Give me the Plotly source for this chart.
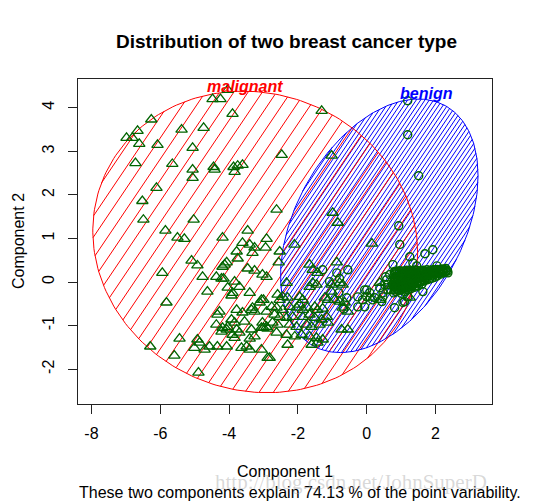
import numpy as np
import plotly.graph_objects as go

# ---------------- data ----------------
malignant_x = [-4.04,-4.48,-4.25,-3.90,-6.26,-6.66,-5.38,-4.74,-6.98,-6.81,-6.61,-6.08,-5.06,-6.72,-5.65,-5.06,-4.45,-4.42,-5.06,-3.87,
               -3.75,-3.61,-3.84,-6.11,-6.52,-6.49,-5.03,-5.85,-3.46,-5.50,-5.30,-4.19,-2.91,-1.31,-2.47,-1.02,-2.62,-0.99,-0.84,-3.61,
               -3.40,-3.26,-3.32,-3.78,-3.75,-5.09,-4.92,-4.13,-4.07,-4.19,-3.46,-3.26,-5.94,-4.77,-4.37,-4.22,-4.16,-3.84,-3.70,-4.04,
               -3.90,-3.93,-3.40,-4.63,-5.82,-3.06,-3.11,-4.28,-4.34,-3.32,-3.26,-3.35,-3.61,-3.78,-2.91,-3.93,-3.84,-4.04,-4.37,-3.55,
               -3.03,-2.91,-3.06,-2.88,-4.19,-4.22,-4.07,-3.78,-3.70,-3.90,-3.84,-3.35,-3.26,-3.40,-5.44,-4.92,-4.86,-5.01,-4.71,-4.57,
               -4.34,-4.07,-3.49,-3.64,-3.40,-3.06,-6.29,-5.59,-4.89,-2.88,-2.10,0.15,-2.53,-2.56,-1.66,-1.57,-1.43,-0.87,-2.33,-1.57,
               -1.46,-1.66,-1.02,-0.79,-0.70,0.38,-1.02,-2.59,-2.44,-2.30,-2.53,-1.95,-1.86,-1.22,-1.13,-0.93,-0.79,-0.64,0.09,0.38,
               -2.76,-2.62,-2.44,-2.24,-1.95,-2.04,-1.86,-1.72,-1.51,-1.43,-1.28,-0.70,-0.55,-2.68,-2.53,-2.33,-2.15,-1.86,-1.66,-1.51,
               -1.31,-1.16,-2.74,-2.59,-2.24,-2.04,-1.75,-1.60,-1.37,-1.13,-0.73,-0.55,-2.62,-2.33,-2.09,-1.89,-1.66,-1.46,-1.28,-2.30,
               -1.60,-1.43,-2.82,1.25,-3.03,-2.91,-2.94,-3.00,-3.00]
malignant_y = [4.41,4.20,4.20,3.86,3.73,3.47,3.50,3.54,3.31,3.31,3.17,3.15,3.08,2.73,2.71,2.58,2.64,2.58,2.39,2.64,
               2.67,2.69,2.53,2.16,1.86,1.43,1.43,1.18,1.18,1.02,0.99,1.02,0.99,3.93,2.92,2.90,1.66,1.59,1.36,0.90,
               0.86,0.79,0.67,0.70,0.54,0.49,0.38,0.40,0.45,0.35,0.31,0.26,0.21,0.12,0.12,0.08,0.08,0.01,-0.11,-0.13,
               -0.25,-0.31,-0.25,-0.22,-0.47,-0.41,-0.47,-0.68,-0.75,-0.59,-0.68,-0.64,-0.70,-0.64,-0.68,-0.86,-0.93,-1.03,-0.98,-0.91,
               -0.93,-1.03,-1.05,-1.07,-1.05,-1.14,-1.09,-1.09,-1.16,-1.21,-1.28,-1.09,-1.25,-1.30,-1.30,-1.32,-1.39,-1.51,-1.55,-1.48,
               -1.48,-1.48,-1.48,-1.51,-1.55,-1.55,-1.48,-1.69,-2.08,-1.74,0.86,0.88,0.70,0.45,0.40,0.28,0.21,0.45,-0.02,-0.02,
               -0.06,-0.11,-0.06,-0.02,-0.06,-0.02,-0.22,-0.29,-0.34,-0.36,-0.41,-0.34,-0.41,-0.36,-0.41,-0.41,-0.45,-0.47,-0.36,-0.41,
               -0.57,-0.59,-0.64,-0.57,-0.52,-0.59,-0.64,-0.59,-0.57,-0.64,-0.61,-0.59,-0.68,-0.75,-0.80,-0.82,-0.80,-0.80,-0.75,-0.82,
               -0.86,-0.80,-0.93,-0.98,-0.98,-1.03,-0.98,-1.03,-0.98,-0.93,-1.09,-1.09,-1.16,-1.21,-1.25,-1.21,-1.25,-1.28,-1.32,-1.44,
               -1.44,-1.39,-1.74,-0.36,0.17,0.12,0.79,-0.41,-1.05]

benign_x = [1.19,1.19,1.51,0.93,0.96,1.69,1.92,1.25,1.34,1.45,0.76,2.04,-1.28,-0.87,-0.55,0.81,0.67,-1.08,-0.79,0.58,
            0.52,0.00,-0.26,0.09,0.38,0.61,-0.12,0.17,0.47,-0.26,1.05,1.10,0.81,-0.58,0.44,1.19,1.45,2.04,2.21,2.36,
            0.70,0.47,-0.06,0.00,-0.06,0.23,1.63,0.55,0.61,-0.81,-0.67,
            0.75,0.78,0.80,0.83,0.85,0.88,0.90,0.93,0.95,0.98,1.00,1.03,1.05,1.08,1.10,1.13,1.15,1.18,1.20,1.23,
            1.25,1.28,1.30,1.33,1.35,1.38,1.40,1.43,1.45,1.48,1.50,1.53,1.55,1.58,1.60,1.63,1.65,1.68,1.70,1.73,
            1.75,1.78,1.80,1.83,1.85,1.88,1.90,1.93,1.95,1.98,2.00,2.05,2.10,2.15,2.20,2.25,2.30,2.35,
            0.80,0.90,1.00,1.10,1.20,1.30,1.40,0.85,0.95,1.05,1.15,1.25,1.35,1.00,1.10,1.20,1.30,1.40,1.50,1.60,
            0.85,0.95,1.05,1.15,1.25,1.35,1.45,1.55,1.65,1.75,1.85,1.95,2.05,2.15,2.25,
            0.80,0.90,1.00,1.10,1.20,1.30,1.40,1.50,1.60,1.70,1.80,1.90,2.00,2.10,2.20,2.30,
            0.78,0.88,0.98,1.08,1.18,1.28,1.38,1.48,1.58,1.68,1.78,1.88,1.98,
            0.76,0.86,0.96,1.06,1.16,1.26,1.36,1.46,1.56,1.66,
            0.80,0.90,1.00,1.10,1.20,1.30,1.40,
            0.82,0.92,1.02,1.12,1.22,1.32,1.42,1.52,1.62,1.72,1.82,1.92,2.02,2.12,2.22,2.32,
            0.83,0.93,1.03,1.13,1.23,1.33,1.43,1.53,1.63,1.73,1.83,1.93,2.03,2.13,
            0.81,0.91,1.01,1.11,1.21,1.31,1.41,1.51,1.61,1.71,
            0.85,0.95,1.05,1.15,1.25,1.35]
benign_y = [4.16,3.38,2.44,1.29,0.86,0.65,0.74,0.58,0.44,0.37,0.40,0.37,0.28,0.21,0.28,0.24,0.17,0.01,0.08,0.05,
            -0.06,-0.18,-0.34,-0.25,-0.13,-0.18,-0.41,-0.41,-0.34,-0.57,-0.47,-0.45,-0.59,-0.36,-0.45,-0.34,0.17,0.28,0.24,0.21,
            -0.18,-0.25,-0.18,-0.34,-0.57,-0.36,-0.22,0.12,-0.06,-0.25,-0.62,
            -0.05,-0.25,-0.12,0.02,-0.22,-0.10,0.05,-0.20,-0.08,0.06,-0.18,-0.04,0.08,-0.15,-0.02,0.10,-0.12,0.01,0.12,-0.10,
            0.03,0.14,-0.07,0.05,0.15,-0.05,0.07,0.17,-0.03,0.09,0.19,-0.01,0.11,0.20,0.01,0.13,0.22,0.03,0.15,0.23,
            0.05,0.17,0.25,0.07,0.19,0.27,0.09,0.21,0.28,0.11,0.22,0.14,0.27,0.18,0.30,0.21,0.31,0.25,
            0.22,0.24,0.25,0.24,0.26,0.25,0.27,0.12,0.15,0.18,0.20,0.20,0.22,-0.26,-0.22,-0.18,-0.15,-0.12,-0.09,-0.05,
            0.24,0.26,0.25,0.27,0.26,0.25,0.27,0.26,0.27,0.28,0.27,0.28,0.29,0.28,0.29,
            0.10,0.12,0.13,0.14,0.15,0.16,0.17,0.18,0.19,0.20,0.21,0.22,0.22,0.23,0.23,0.24,
            0.00,0.01,0.03,0.04,0.05,0.07,0.08,0.09,0.11,0.12,0.14,0.15,0.17,
            -0.10,-0.09,-0.08,-0.07,-0.05,-0.04,-0.02,-0.01,0.01,0.03,
            -0.18,-0.17,-0.16,-0.15,-0.13,-0.11,-0.09,
            0.18,0.19,0.20,0.21,0.21,0.22,0.22,0.23,0.24,0.24,0.25,0.25,0.26,0.26,0.27,0.27,
            0.06,0.07,0.08,0.09,0.10,0.11,0.12,0.13,0.15,0.16,0.17,0.18,0.19,0.20,
            -0.05,-0.04,-0.03,-0.02,-0.01,0.01,0.03,0.04,0.06,0.08,
            -0.14,-0.13,-0.12,-0.10,-0.08,-0.06]

# cluster ellipses: centre x, centre y, sd along x, sd along y, covariance
malignant_ellipse = [-3.24, 0.92, 4.72, 3.46, -1.2]
benign_ellipse = [0.365, 1.29, 2.87, 2.91, 3.3]

x_ticks = [-8, -6, -4, -2, 0, 2]
y_ticks = [-2, -1, 0, 1, 2, 3, 4]
x_range = [-8.39, 3.64]
y_range = [-2.80, 4.66]

# ---------------- layout constants ----------------
W, H = 533, 503
ML, MR, MT, MB = 78, 41, 79, 99
PW, PH = W - ML - MR, H - MT - MB
KX = PW / (x_range[1] - x_range[0])
KY = PH / (y_range[1] - y_range[0])
FONT = "Liberation Sans, Arial, sans-serif"
GREEN = "#006400"


def ellipse_poly(p, n=240):
    cx, cy, sx, sy, cov = p
    t = np.linspace(0, 2 * np.pi, n)
    b = cov / sx
    c = np.sqrt(sy ** 2 - b ** 2)
    return cx + sx * np.cos(t), cy + b * np.cos(t) + c * np.sin(t)


def hatch(px, py, angle_deg, spacing):
    u, v = px * KX, py * KY
    a = np.radians(angle_deg)
    dx, dy = np.cos(a), np.sin(a)
    nx, ny = -dy, dx
    s = u * nx + v * ny
    xs, ys = [], []
    c = s.min() + spacing / 2
    while c < s.max():
        pts = []
        for i in range(len(u) - 1):
            s0, s1 = s[i] - c, s[i + 1] - c
            if s0 * s1 < 0:
                f = s0 / (s0 - s1)
                pts.append((u[i] + f * (u[i + 1] - u[i]), v[i] + f * (v[i + 1] - v[i])))
        if len(pts) >= 2:
            proj = [p[0] * dx + p[1] * dy for p in pts]
            p0 = pts[int(np.argmin(proj))]
            p1 = pts[int(np.argmax(proj))]
            xs += [p0[0] / KX, p1[0] / KX, None]
            ys += [p0[1] / KY, p1[1] / KY, None]
        c += spacing
    return xs, ys


fig = go.Figure()

bx, by = ellipse_poly(benign_ellipse)
mx, my = ellipse_poly(malignant_ellipse)

hx, hy = hatch(bx, by, 56, 3.6)
fig.add_trace(go.Scatter(x=hx, y=hy, mode="lines", line=dict(color="blue", width=1), hoverinfo="skip", showlegend=False))
hx, hy = hatch(mx, my, 56, 11.8)
fig.add_trace(go.Scatter(x=hx, y=hy, mode="lines", line=dict(color="red", width=1), hoverinfo="skip", showlegend=False))

fig.add_trace(go.Scatter(x=bx, y=by, mode="lines", line=dict(color="blue", width=1), showlegend=False))
fig.add_trace(go.Scatter(x=mx, y=my, mode="lines", line=dict(color="red", width=1), showlegend=False))

fig.add_trace(go.Scatter(x=malignant_x, y=malignant_y, mode="markers",
                         marker=dict(symbol="triangle-up-open", size=10, color=GREEN, line=dict(width=1.3, color=GREEN)),
                         showlegend=False))
fig.add_trace(go.Scatter(x=benign_x, y=benign_y, mode="markers",
                         marker=dict(symbol="circle-open", size=8, color=GREEN, line=dict(width=1.4, color=GREEN)),
                         showlegend=False))

axis_common = dict(showgrid=False, zeroline=False, showline=True, mirror=True, linecolor="#222", linewidth=1,
                   ticks="outside", ticklen=9, tickcolor="#222", tickwidth=1,
                   tickfont=dict(family=FONT, size=16, color="black"))
fig.update_xaxes(range=x_range, tickvals=x_ticks, ticktext=[str(v) for v in x_ticks], ticklabelstandoff=6, **axis_common)
fig.update_yaxes(range=y_range, tickvals=y_ticks, ticktext=[str(v) for v in y_ticks], tickangle=-90,
                 ticklabelstandoff=8, **axis_common)

def px2paper(xp, yp):
    return (xp - ML) / PW, (H - MB - yp) / PH

ann = []
tx, ty = px2paper(286.5, 41)
ann.append(dict(text="<b>Distribution of two breast cancer type</b>", x=tx, y=ty, font=dict(size=19)))
tx, ty = px2paper(285, 472)
ann.append(dict(text="Component 1", x=tx, y=ty, font=dict(size=16)))
tx, ty = px2paper(300, 492)
ann.append(dict(text="These two components explain 74.13 % of the point variability.", x=tx, y=ty, font=dict(size=16)))
tx, ty = px2paper(18, 241)
ann.append(dict(text="Component 2", x=tx, y=ty, textangle=-90, font=dict(size=16)))
annotations = []
for a in ann:
    a["font"].update(family=FONT, color="black")
    annotations.append(dict(xref="paper", yref="paper", xanchor="center", yanchor="middle", showarrow=False, **a))

wx, wy = px2paper(213, 482)
annotations.append(dict(xref="paper", yref="paper", x=wx, y=wy, xanchor="left", yanchor="middle", showarrow=False,
                        text="http://blog.csdn.net/JohnSuperD",
                        font=dict(family="Liberation Serif, serif", size=21, color="rgba(170,170,170,0.45)")))

annotations.append(dict(x=-3.55, y=4.49, xref="x", yref="y", showarrow=False, text="<b><i>malignant</i></b>",
                        font=dict(family=FONT, size=16, color="red")))
annotations.append(dict(x=1.73, y=4.33, xref="x", yref="y", showarrow=False, text="<b><i>benign</i></b>",
                        font=dict(family=FONT, size=16, color="blue")))

fig.update_layout(width=W, height=H, margin=dict(l=ML, r=MR, t=MT, b=MB), plot_bgcolor="white", paper_bgcolor="white",
                  annotations=annotations, showlegend=False)

fig.write_html("out.html", config={"displayModeBar": False},
               post_script="document.body.style.margin='0';document.body.style.padding='0';document.body.style.overflow='hidden';")
